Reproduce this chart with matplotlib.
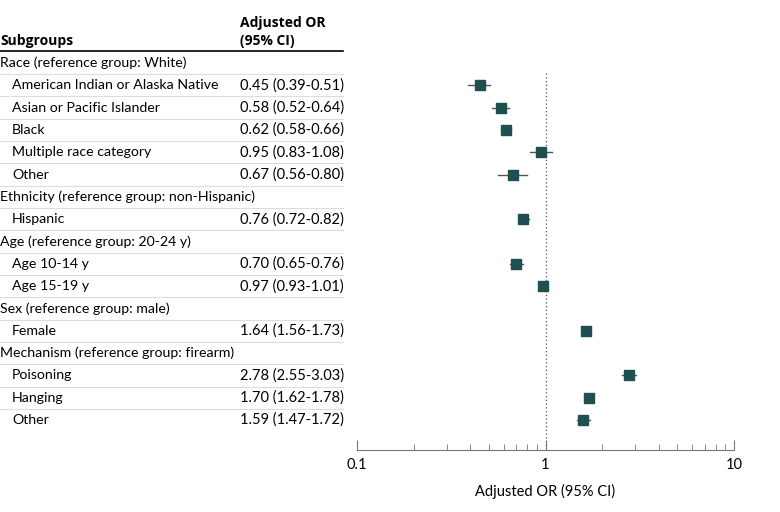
import numpy as np
import matplotlib
matplotlib.use('Agg')
import matplotlib.pyplot as plt
from matplotlib.lines import Line2D
from matplotlib.transforms import blended_transform_factory

plt.rcParams['font.family'] = ['Lato', 'DejaVu Sans']

# rows of the table, None = group heading
labels = ['Race (reference group: White)', 'American Indian or Alaska Native',
          'Asian or Pacific Islander', 'Black', 'Multiple race category', 'Other',
          'Ethnicity (reference group: non-Hispanic)', 'Hispanic',
          'Age (reference group: 20-24 y)', 'Age 10-14 y', 'Age 15-19 y',
          'Sex (reference group: male)', 'Female',
          'Mechanism (reference group: firearm)', 'Poisoning', 'Hanging', 'Other']
is_group = [True, False, False, False, False, False, True, False,
            True, False, False, True, False, True, False, False, False]
odds = [None, 0.45, 0.58, 0.62, 0.95, 0.67, None, 0.76, None, 0.70, 0.97,
        None, 1.64, None, 2.78, 1.70, 1.59]
lower = [None, 0.39, 0.52, 0.58, 0.83, 0.56, None, 0.72, None, 0.65, 0.93,
         None, 1.56, None, 2.55, 1.62, 1.47]
upper = [None, 0.51, 0.64, 0.66, 1.08, 0.80, None, 0.82, None, 0.76, 1.01,
         None, 1.73, None, 3.03, 1.78, 1.72]

W, H = 780, 512
fig = plt.figure(figsize=(7.8, 5.12), dpi=100)
ax = fig.add_axes([357 / W, 1 - 450 / H, 377 / W, (450 - 52) / H])

n = len(labels)
step = 22.31
ax.set_ylim((450 - 420) / step + n - 1, -(63 - 52) / step)
ax.set_xscale('log')
ax.set_xlim(0.1, 10)

mk = '#1f4f4f'
for i in range(n):
    if odds[i] is None:
        continue
    ax.plot([lower[i], upper[i]], [i, i], color='#555555', lw=1.0, zorder=2)
    ax.plot(odds[i], i, marker='s', ms=6.5, color=mk, zorder=3)

ax.plot([1, 1], [0.45, ax.get_ylim()[0]], color='#555555', lw=0.9,
        ls=(0, (1, 2)), zorder=1)

for s in ['top', 'right', 'left']:
    ax.spines[s].set_visible(False)
ax.spines['bottom'].set_color('#777777')
ax.set_yticks([])
ax.set_xticks([0.1, 1, 10])
ax.set_xticklabels(['0.1', '1', '10'])
ax.tick_params(axis='x', which='major', direction='in', length=7, color='#777777',
               labelsize=10.5, pad=6)
ax.tick_params(axis='x', which='minor', direction='in', length=4, color='#777777')
ax.xaxis.set_minor_formatter(plt.NullFormatter())
ax.set_xlabel('Adjusted OR (95% CI)', fontsize=10.5, labelpad=8)

# table on the left
tr = blended_transform_factory(fig.transFigure, ax.transData)
for i in range(n):
    x0 = 0 if is_group[i] else 12 / W
    ax.text(x0, i, labels[i], transform=tr, ha='left', va='center', fontsize=10.2)
    if odds[i] is not None:
        ax.text(240 / W, i, f'{odds[i]:.2f} ({lower[i]:.2f}-{upper[i]:.2f})',
                transform=tr, ha='left', va='center', fontsize=10.5)
    if i < n - 1:
        fig.add_artist(Line2D([0, 343 / W], [i + 0.5, i + 0.5], transform=tr,
                              color='#dddddd', lw=0.8))

hdr = dict(fontsize=10, fontweight='bold', va='center', family=['Open Sans', 'DejaVu Sans'])
fig.text(0, 1 - 41 / H, 'Subgroups', **hdr)
fig.text(240 / W, 1 - 23 / H, 'Adjusted OR', **hdr)
fig.text(240 / W, 1 - 41 / H, '(95% CI)', **hdr)
fig.add_artist(Line2D([0, 343 / W], [1 - 51 / H, 1 - 51 / H], color='black', lw=1.2))

fig.savefig('out.png', dpi=100)
